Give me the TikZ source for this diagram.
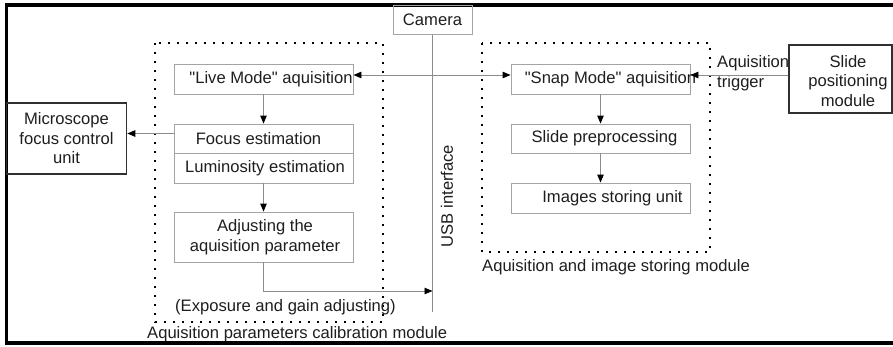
\documentclass[tikz,border=0pt]{standalone}
\usepackage{fontspec}
\setmainfont{Liberation Sans}
\usetikzlibrary{arrows.meta}
\definecolor{boxgray}{HTML}{A4A4A4}
\definecolor{linegray}{HTML}{8C8C8C}
\definecolor{txt}{HTML}{1E1E1E}
\definecolor{darkedge}{HTML}{303030}
\begin{document}
\begin{tikzpicture}[x=1pt,y=-1pt,
  every node/.style={font=\fontsize{16.6}{19.5}\selectfont, inner sep=0pt, text=txt},
  gbox/.style={draw=boxgray, line width=0.9pt, rectangle},
  kbox/.style={draw=darkedge, line width=1.6pt, rectangle, align=center},
  conn/.style={draw=linegray, line width=0.9pt},
  tip/.style={-{Triangle[length=8pt,width=6.5pt,color=black]}},
  dotbox/.style={draw=black, line width=1.8pt, dash pattern=on 1.8pt off 7.2pt}]
\useasboundingbox (0,0) rectangle (893,346);
% outer frame
\draw[line width=3.5pt] (895,5) -- (6.5,5) -- (6.5,343) -- (895,343);
% dotted module frames
\draw[dotbox] (155,43) rectangle (383,322);
\draw[dotbox] (482,43) rectangle (710,252);
% camera
\node[gbox, minimum width=79pt, minimum height=29.5pt] (camera) at (432.5,19.75) {Camera};
% left column boxes
\node[gbox, minimum width=179pt, minimum height=30pt] (live) at (263.5,79) {};
\node (livet) at (271,79) {\textquotedbl Live Mode\textquotedbl\ aquisition};
\node[gbox, minimum width=179pt, minimum height=29pt] (focus) at (263.5,138.5) {};
\node (focust) at (258.5,138.5) {Focus estimation};
\node[gbox, minimum width=179pt, minimum height=30pt] (lum) at (263.5,168) {};
\node (lumt) at (265,168) {Luminosity estimation};
\node[gbox, minimum width=179pt, minimum height=50pt] (adj) at (263.5,237) {};
\node[align=center] (adjt) at (265,237) {Adjusting the\\aquisition parameter};
% right column boxes
\node[gbox, minimum width=179pt, minimum height=30pt] (snap) at (600.5,79) {};
\node (snapt) at (610.5,79) {\textquotedbl Snap Mode\textquotedbl\ aquisition};
\node[gbox, minimum width=179pt, minimum height=29pt] (prep) at (600.5,138.5) {};
\node (prept) at (604.5,138.5) {Slide preprocessing};
\node[gbox, minimum width=179pt, minimum height=30pt] (store) at (600.5,198) {};
\node (storet) at (612.5,198) {Images storing unit};
% external units
\node[kbox, minimum width=120pt, minimum height=71pt] (micro) at (66.5,138.5) {Microscope\\focus control\\unit};
\node[kbox, minimum width=103pt, minimum height=68pt] (slide) at (840.5,79) {};
\node[align=center] (slidet) at (848,81) {Slide\\positioning\\module};
% labels
\node[anchor=west, align=left] (trig) at (717,73) {Aquisition\\trigger};
\node[anchor=west] (expo) at (175,307) {(Exposure and gain adjusting)};
\node[anchor=west] (calib) at (147,334) {Aquisition parameters calibration module};
\node[anchor=west] (acqmod) at (482,267) {Aquisition and image storing module};
\node[rotate=90] (usb) at (447,196) {USB interface};
% connectors
\coordinate (usbend) at (432.5,312);
\coordinate (usbin) at (432.5,291);
\draw[conn] (camera.south) -- (usbend);
\draw[conn, {Triangle[length=8pt,width=6.5pt,color=black]}-{Triangle[length=8pt,width=6.5pt,color=black]}] ([yshift=4pt]live.east) -- ([yshift=4pt]snap.west);
\draw[conn, tip] ([yshift=4pt]slide.west) -- ([yshift=4pt]snap.east);
\draw[conn, tip] (live.south) -- (focus.north);
\draw[conn, tip] (lum.south) -- (adj.north);
\draw[conn, tip] ([yshift=5pt]focus.west) -- ([yshift=5pt]micro.east);
\draw[conn, tip] (snap.south) -- (prep.north);
\draw[conn, tip] (prep.south) -- (store.north);
\draw[conn, tip] (adj.south) |- (usbin);
\end{tikzpicture}
\end{document}
